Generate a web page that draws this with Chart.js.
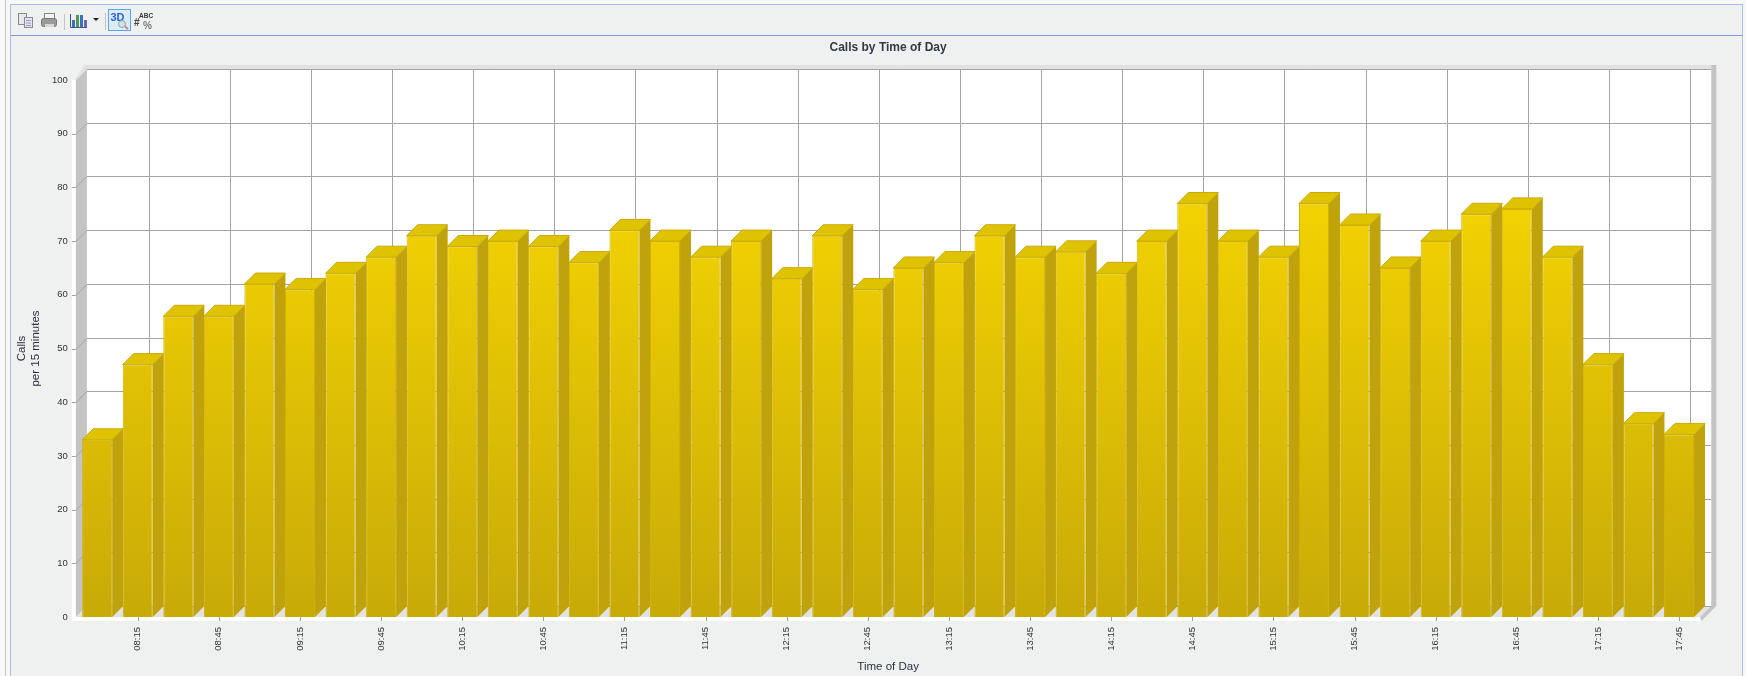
<!DOCTYPE html>
<html>
<head>
<meta charset="utf-8">
<title>Calls by Time of Day</title>
<script src="https://cdn.jsdelivr.net/npm/chart.js@4"></script>
<style>
    html, body { margin: 0; padding: 0; background: #f8f8f8; }
    #page { position: relative; width: 1746px; height: 676px; overflow: hidden; font-family: "Liberation Sans", Arial, sans-serif; }
    #outerLine { position: absolute; left: 5px; top: 0; width: 1px; height: 676px; background: #c8c8c8; }
    #frame { position: absolute; left: 10px; top: 4px; width: 1731px; height: 680px; background: #eff1f0; border: 1px solid #a9bde8; }
    #toolbarLine { position: absolute; left: 11px; top: 35px; width: 1731px; height: 1px; background: #7f9ddb; }
    #toolbar { position: absolute; left: 12px; top: 6px; width: 160px; height: 29px; }
    #chart { position: absolute; left: 0; top: 0; }
</style>
</head>
<body>
<div id="page">
    <div id="outerLine"></div>
    <div id="frame"></div>
    <div id="toolbarLine"></div>
    <canvas id="chart" width="1746" height="676"></canvas>
    <svg id="toolbar" viewBox="0 0 160 29" font-family="Liberation Sans, Arial, sans-serif">
        <!-- copy -->
        <rect x="6.5" y="7.5" width="8" height="11" fill="#e8e8e8" stroke="#8a8a8a"/>
        <rect x="12.5" y="11.5" width="8" height="10" fill="#dfe5f4" stroke="#8a8a9a"/>
        <path d="M14 14.5h5M14 17h5M14 19.5h5" stroke="#9a9aaa"/>
        <!-- print -->
        <rect x="32.5" y="7.5" width="10" height="6" fill="#f4f4f4" stroke="#888"/>
        <rect x="29.5" y="12.5" width="15" height="8" rx="2" fill="#9a9a9a" stroke="#777"/>
        <rect x="33" y="18" width="9" height="3" fill="#d8d8d8"/>
        <!-- chart type -->
        <rect x="52" y="8" width="1" height="16" fill="#c4c4c4"/>
        <path d="M58.5 8v13.5H75" stroke="#3b4fa8" fill="none"/>
        <rect x="60" y="14" width="3" height="7" fill="#3b6fc0"/>
        <rect x="64" y="9" width="3" height="12" fill="#4f9a4f"/>
        <rect x="68" y="9" width="3" height="12" fill="#3b6fc0"/>
        <rect x="72" y="14" width="3" height="7" fill="#7a5fb0"/>
        <path d="M81 12h6l-3 3z" fill="#222"/>
        <rect x="93" y="7" width="1" height="17" fill="#c4c4c4"/>
        <!-- 3D toggle -->
        <rect x="96.5" y="3.5" width="22" height="21" fill="#dcebf8" stroke="#5aa7ea"/>
        <text x="98.5" y="15" font-size="11" font-weight="bold" fill="#2b62d0">3D</text>
        <circle cx="110" cy="18" r="3.5" fill="#cfe3e8" stroke="#8aa"/>
        <path d="M113 20.5l3 2.5" stroke="#d98080" stroke-width="2"/>
        <!-- values toggle -->
        <text x="127" y="11.5" font-size="6.5" font-weight="bold" fill="#333">ABC</text>
        <text x="122" y="20" font-size="10" font-weight="bold" fill="#444">#</text>
        <text x="131" y="23" font-size="10" font-weight="bold" fill="#777">%</text>
    </svg>
</div>
<script>
// Calls per quarter hour through the working day
const timeLabels = ['08:00','08:15','08:30','08:45','09:00','09:15','09:30','09:45','10:00','10:15',
                    '10:30','10:45','11:00','11:15','11:30','11:45','12:00','12:15','12:30','12:45',
                    '13:00','13:15','13:30','13:45','14:00','14:15','14:30','14:45','15:00','15:15',
                    '15:30','15:45','16:00','16:15','16:30','16:45','17:00','17:15','17:30','17:45'];
const callCounts = [33,47,56,56,62,61,64,67,71,69,
                    70,69,66,72,70,67,70,63,71,61,
                    65,66,71,67,68,64,70,77,70,67,
                    77,73,65,70,75,76,67,47,36,34];
const yTicks = [0,10,20,30,40,50,60,70,80,90,100];

const DEPTH = 11;
const FONT = '"Liberation Sans", Arial, sans-serif';

// Draws the walls, floor, back grid and the side and top faces of each bar.
// Everything goes down before the bar fronts so a front covers its neighbour's side.
const boxPlugin = {
    id: 'box',
    beforeDatasetsDraw(chart) {
        const { ctx, chartArea: a, scales: { x, y } } = chart;
        const left = a.left - 1, right = a.right + 1, top = a.top, bottom = a.bottom;
        ctx.save();

        // back wall
        ctx.fillStyle = '#ffffff';
        ctx.fillRect(left + DEPTH, top - DEPTH, right - left, bottom - top);

        // white front strips along the left and bottom
        ctx.fillRect(left - 4, top, 4, bottom - top + 4);
        ctx.fillRect(left - 4, bottom, right - left + 4, 4);

        // left wall
        ctx.fillStyle = '#c4c4c4';
        ctx.beginPath();
        ctx.moveTo(left, top);
        ctx.lineTo(left + DEPTH, top - DEPTH);
        ctx.lineTo(left + DEPTH, bottom - DEPTH);
        ctx.lineTo(left, bottom);
        ctx.fill();

        // floor
        ctx.fillStyle = '#e2e2e2';
        ctx.beginPath();
        ctx.moveTo(left, bottom);
        ctx.lineTo(left + DEPTH, bottom - DEPTH);
        ctx.lineTo(right + DEPTH, bottom - DEPTH);
        ctx.lineTo(right, bottom);
        ctx.fill();

        // top lip of the box
        ctx.beginPath();
        ctx.moveTo(left, top);
        ctx.lineTo(left - 1, top - 1);
        ctx.lineTo(left + DEPTH - 2, top - DEPTH - 4);
        ctx.lineTo(right + DEPTH, top - DEPTH - 4);
        ctx.lineTo(right + DEPTH, top - DEPTH);
        ctx.lineTo(left + DEPTH, top - DEPTH);
        ctx.fill();

        // right edge of the box
        ctx.fillStyle = '#c4c4c4';
        ctx.fillRect(right + DEPTH, top - DEPTH - 4, 5, bottom - top + 4);
        ctx.beginPath();
        ctx.moveTo(right + DEPTH, bottom - DEPTH);
        ctx.lineTo(right + DEPTH + 5, bottom - DEPTH);
        ctx.lineTo(right + 1, bottom + 4);
        ctx.lineTo(right, bottom);
        ctx.fill();

        // back wall grid with the short runs across the left wall
        ctx.strokeStyle = '#a4a4a4';
        ctx.lineWidth = 1;
        ctx.beginPath();
        yTicks.forEach(v => {
            const py = Math.round(y.getPixelForValue(v)) - DEPTH + 0.5;
            ctx.moveTo(left + DEPTH, py);
            ctx.lineTo(right + DEPTH, py);
            if (v > 0 && v < 100) {
                ctx.moveTo(left - 4, py + DEPTH);
                ctx.lineTo(left, py + DEPTH);
                ctx.lineTo(left + DEPTH, py);
            }
        });
        timeLabels.forEach((t, i) => {
            if (i % 2 === 1) {
                const px = Math.round(x.getPixelForValue(i)) + DEPTH + 0.5;
                ctx.moveTo(px, top - DEPTH);
                ctx.lineTo(px, bottom - DEPTH);
                // tick on the front strip
                ctx.moveTo(px - DEPTH, bottom);
                ctx.lineTo(px - DEPTH, bottom + 4);
            }
        });
        ctx.stroke();

        // side and top faces of the bars
        const bars = chart.getDatasetMeta(0).data;
        bars.forEach(bar => {
            const p = bar.getProps(['x', 'y', 'base', 'width'], true);
            const l = p.x - p.width / 2, r = p.x + p.width / 2;
            ctx.fillStyle = '#c0a30c';
            ctx.beginPath();
            ctx.moveTo(r, p.y);
            ctx.lineTo(r + DEPTH, p.y - DEPTH);
            ctx.lineTo(r + DEPTH, p.base - DEPTH);
            ctx.lineTo(r, p.base);
            ctx.fill();
            ctx.fillStyle = '#e0c300';
            ctx.strokeStyle = '#c9ab08';
            ctx.lineWidth = 1;
            ctx.beginPath();
            ctx.moveTo(l, p.y);
            ctx.lineTo(l + DEPTH, p.y - DEPTH);
            ctx.lineTo(r + DEPTH, p.y - DEPTH);
            ctx.lineTo(r, p.y);
            ctx.closePath();
            ctx.fill();
            ctx.stroke();
        });
        ctx.restore();
    }
};

const ctx = document.getElementById('chart').getContext('2d');
const barFill = ctx.createLinearGradient(0, 80, 0, 617);
barFill.addColorStop(0, '#ffde00');
barFill.addColorStop(1, '#c8aa08');

new Chart(ctx, {
    type: 'bar',
    data: {
        labels: timeLabels,
        datasets: [{
            label: 'Calls',
            data: callCounts,
            backgroundColor: barFill,
            borderColor: '#d0b202',
            borderWidth: 1,
            categoryPercentage: 1,
            barPercentage: 0.74
        }]
    },
    options: {
        responsive: false,
        animation: false,
        layout: { padding: { left: 15, right: 46.7, top: 30, bottom: 0 } },
        plugins: {
            legend: { display: false },
            tooltip: { enabled: false },
            title: {
                display: true,
                fullSize: false,
                text: 'Calls by Time of Day',
                color: '#333a44',
                font: { family: FONT, size: 12, weight: 'bold' },
                padding: { top: 10, bottom: 25.6 }
            }
        },
        scales: {
            x: {
                afterFit(scale) { scale.height = 59; },
                grid: { display: false, drawTicks: false },
                border: { display: false },
                title: {
                    display: true,
                    text: 'Time of Day',
                    color: '#2a3040',
                    font: { family: FONT, size: 11.5 },
                    padding: { top: 0, bottom: 2 }
                },
                ticks: {
                    autoSkip: false,
                    maxRotation: 90,
                    minRotation: 90,
                    padding: 10,
                    color: '#333333',
                    font: { family: FONT, size: 9.5 },
                    callback(value, i) { return i % 2 === 1 ? timeLabels[i] : ''; }
                }
            },
            y: {
                min: 0,
                max: 100,
                afterFit(scale) { scale.width = 61.9; },
                grid: { display: false },
                border: { display: false },
                title: {
                    display: true,
                    text: ['Calls', 'per 15 minutes'],
                    color: '#2a3040',
                    font: { family: FONT, size: 11.5, lineHeight: 1.2 },
                    padding: { top: 0, bottom: 0 }
                },
                afterBuildTicks(scale) { scale.ticks = yTicks.map(v => ({ value: v })); },
                ticks: {
                    padding: 1,
                    color: '#333333',
                    font: { family: FONT, size: 9.5 }
                }
            }
        }
    },
    plugins: [boxPlugin]
});
</script>
</body>
</html>
